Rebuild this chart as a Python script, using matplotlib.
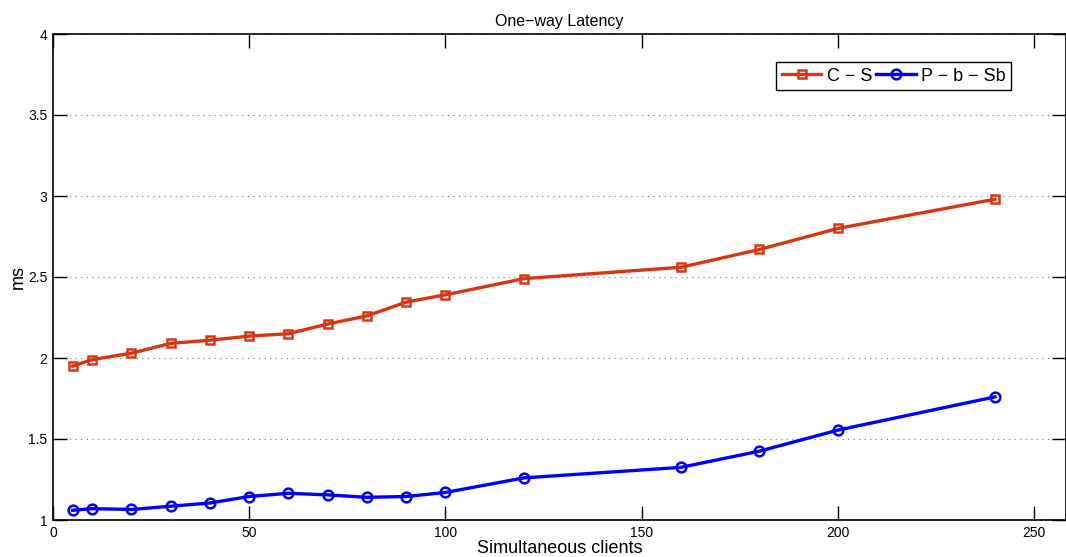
import matplotlib
matplotlib.use('Agg')
import matplotlib.pyplot as plt

plt.rcParams['font.family'] = ['Liberation Sans', 'DejaVu Sans']

# 数据：并发客户端数 与 单向延迟(ms)
clients = [5, 10, 20, 30, 40, 50, 60, 70, 80, 90, 100, 120, 160, 180, 200, 240]
cs_latency = [1.95, 1.99, 2.03, 2.09, 2.11, 2.135, 2.15, 2.21, 2.26, 2.345,
              2.39, 2.49, 2.56, 2.67, 2.80, 2.98]
pbsb_latency = [1.06, 1.07, 1.065, 1.085, 1.105, 1.145, 1.165, 1.155, 1.14, 1.145,
                1.17, 1.26, 1.325, 1.425, 1.555, 1.76]
series_names = ['C \u2212 S', 'P \u2212 b \u2212 Sb']

fig = plt.figure(figsize=(10.66, 5.57), dpi=100)
ax = fig.add_axes([53 / 1066, 1 - 520 / 557, 1013 / 1066, 486 / 557])

ax.plot(clients, cs_latency, color='#d93512', lw=2.4, marker='s', ms=6,
        mfc='none', mew=1.8, label=series_names[0])
ax.plot(clients, pbsb_latency, color='#0000ff', lw=2.4, marker='o', ms=7,
        mfc='none', mew=1.8, label=series_names[1])

ax.set_xlim(0, 258.1)
ax.set_ylim(1, 4)
ax.set_xticks([0, 50, 100, 150, 200, 250])
ax.set_yticks([1, 1.5, 2, 2.5, 3, 3.5, 4])
ax.set_yticklabels(['1', '1.5', '2', '2.5', '3', '3.5', '4'])
ax.tick_params(direction='in', length=10, width=1, labelsize=10,
               top=True, right=True, pad=4)
ax.yaxis.grid(True, linestyle=(0, (1, 4)), color='#777777', lw=0.8)
for s in ax.spines.values():
    s.set_linewidth(1.2)

ax.set_title('One\u2212way Latency', fontsize=11.5, pad=6)
ax.set_xlabel('Simultaneous clients', fontsize=13, labelpad=0)
ax.set_ylabel('ms', fontsize=13, labelpad=1)

leg = ax.legend(ncol=2, loc='upper right', bbox_to_anchor=(0.9457, 0.942),
                borderaxespad=0, fancybox=False, edgecolor='black',
                fontsize=13, handlelength=2.2, columnspacing=0.2,
                handletextpad=0.3, borderpad=0.3, framealpha=1)
leg.get_frame().set_linewidth(1.0)

fig.savefig('out.png', dpi=100)
